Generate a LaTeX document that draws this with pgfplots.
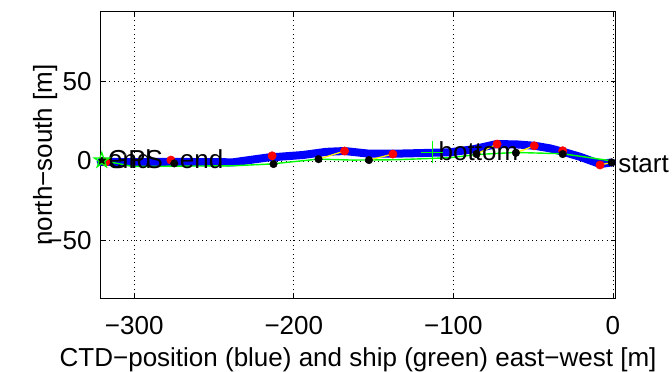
\documentclass[border=0pt]{standalone}
\usepackage{fontspec}
\setmainfont{Liberation Sans}
\usepackage{pgfplots}
\pgfplotsset{compat=1.18}
\pgfdeclareplotmark{pentagram}{%
 \pgfpathmoveto{\pgfpointpolar{90}{\pgfplotmarksize}}%
 \pgfpathlineto{\pgfpointpolar{126}{0.382\pgfplotmarksize}}%
 \pgfpathlineto{\pgfpointpolar{162}{\pgfplotmarksize}}%
 \pgfpathlineto{\pgfpointpolar{198}{0.382\pgfplotmarksize}}%
 \pgfpathlineto{\pgfpointpolar{234}{\pgfplotmarksize}}%
 \pgfpathlineto{\pgfpointpolar{270}{0.382\pgfplotmarksize}}%
 \pgfpathlineto{\pgfpointpolar{306}{\pgfplotmarksize}}%
 \pgfpathlineto{\pgfpointpolar{342}{0.382\pgfplotmarksize}}%
 \pgfpathlineto{\pgfpointpolar{18}{\pgfplotmarksize}}%
 \pgfpathlineto{\pgfpointpolar{54}{0.382\pgfplotmarksize}}%
 \pgfpathclose\pgfusepathqstroke}
\begin{document}
\fontsize{26}{30}\selectfont
\begin{tikzpicture}
\begin{axis}[
  scale only axis, width=514.8pt, height=286.6pt,
  xmin=-321, xmax=1.6, ymin=-86.7, ymax=94.1,
  clip=false,
  unbounded coords=jump,
  xtick={-300,-200,-100,0}, xticklabels={−300,−200,−100,0},
  ytick={-50,0,50}, yticklabels={−50,0,50},
  tick align=inside, major tick length=5pt,
  tick style={black, line width=0.8pt},
  grid=major,
  major grid style={black, line width=0.6pt, dash pattern=on 0.8pt off 3.6pt},
  axis line style={line width=0.9pt},
  xticklabel style={anchor=north, inner sep=0pt, yshift=-17.7pt},
  yticklabel style={anchor=east, inner sep=0pt, xshift=-9pt},
  xlabel={CTD−position (blue) and ship (green) east−west [m]},
  xlabel style={at={(axis description cs:0.5,0)}, anchor=base, inner sep=0pt, yshift=-67.7pt},
  ylabel={north−south [m]},
  ylabel style={at={(axis description cs:-0.0946,0.5)}, anchor=base, inner sep=0pt},
]
% CTD position (blue)
\addplot[blue, line width=8pt, line join=round, line cap=round] coordinates {
(-321,-0.6) (-300,-0.8) (-277,-0.6) (-253,-0.8) (-238,-0.9) (-228,0.5)
(-215,2.3) (-209,2.6) (-194.3,3.7) (-179.7,5.7) (-168.2,6.2) (-160.8,5.4)
(-152.5,4.5) (-137.9,4.5) (-121.1,4.9) (-102.3,5.4) (-87.6,7.3) (-72.9,10.6)
(-60.4,10.4) (-48.9,9.5) (-39.5,7.9) (-31.1,5.7) (-20.7,2.6) (-8.1,-2.0) (-0.8,-1.0)
};
% ship track (green)
\addplot[green, line width=1.4pt] coordinates {
(-320.3,0.3) (-301,-3.5) (-270,-3.3) (-238,-3.1) (-215,-2.0) (-212.7,-1.8)
(-184.5,1.1) (-163,0.5) (-136,0.7) (-102,2.0) (-85.5,4.0) (-60.8,5.3)
(-31.5,4.5) (-0.8,0.0)
};
% red points
\addplot[only marks, mark=*, mark size=4.2pt, color=red, fill=red] coordinates {
(-317.8,-0.8) (-277,0.5) (-213.6,3.2) (-168.2,6.2) (-137.9,4.3)
(-72.6,10.6) (-49.3,9.5) (-31.5,6.4) (-8.1,-2.6)
};
% black points
\addplot[only marks, mark=*, mark size=3.8pt, color=black, fill=black] coordinates {
(-320,0) (-274.9,-1.6) (-212.7,-2.0) (-184.5,1.1) (-152.9,0.5)
(-85.5,4.3) (-60.8,5.1) (-31.5,4.3) (-0.8,-1.0)
};
% yellow connectors
\addplot[yellow, line width=1.3pt] coordinates {
(-274.9,-1.6) (-277,0.5) (-277,nan)
(-212.7,-2.0) (-213.6,3.2) (-213.6,nan)
(-184.5,1.1) (-168.2,6.2) (-168.2,nan)
(-152.9,0.5) (-137.9,4.3) (-137.9,nan)
(-85.5,4.3) (-72.6,10.6) (-72.6,nan)
(-60.8,5.1) (-49.3,9.5) (-49.3,nan)
(-31.5,4.3) (-31.5,6.4) (-31.5,nan)
(-0.8,-1.0) (-8.1,-2.6)
};
% GPS end star
\addplot[only marks, mark=pentagram, mark size=8pt, color=green, line width=1.2pt] coordinates {(-320.3,0.3)};
% bottom cross
\addplot[only marks, mark=+, mark size=11pt, color=green, line width=1.3pt] coordinates {(-113.1,5.4)};
% labels
\node[anchor=west, inner sep=0pt] at (axis cs:-316.5,1.0) {GPS};
\node[anchor=west, inner sep=0pt] at (axis cs:-316.5,1.0) {end};
\node[anchor=west, inner sep=0pt] at (axis cs:-271.5,1.0) {end};
\node[anchor=west, inner sep=0pt] at (axis cs:-109.3,6.1) {bottom};
\node[anchor=west, inner sep=0pt] at (axis cs:3.2,-2.1) {start};
\end{axis}
\path (current axis.south west) ++(-100.7pt,-72.7pt);
\path (current axis.north east) ++(56.5pt,11.7pt);
\end{tikzpicture}
\end{document}
